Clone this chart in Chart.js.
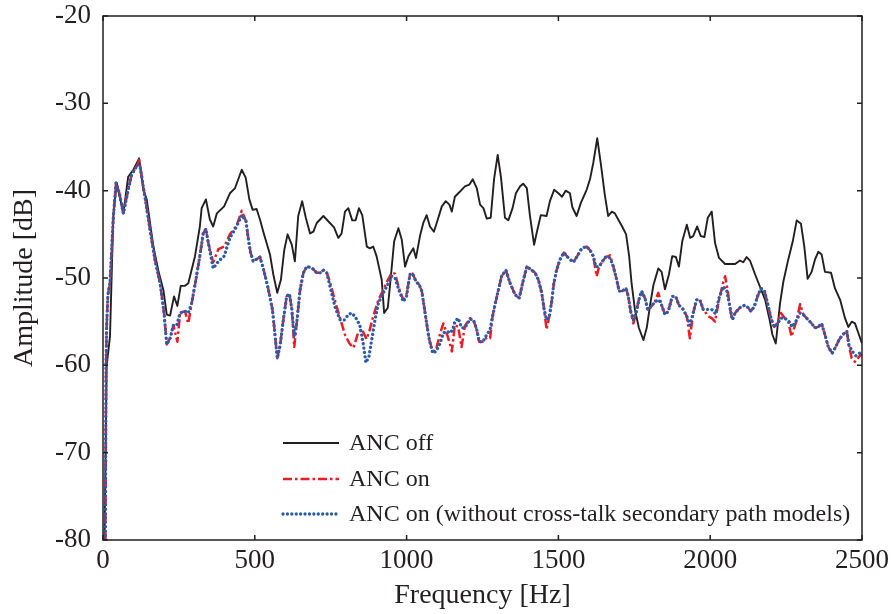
<!DOCTYPE html>
<html>
<head>
<meta charset="utf-8">
<script src="https://cdn.jsdelivr.net/npm/chart.js@4.4.0/dist/chart.umd.min.js"></script>
<style>
html, body { margin: 0; padding: 0; background: #fff; }
#wrap { width: 895px; height: 614px; position: relative; }
</style>
</head>
<body>
<div id="wrap"><canvas id="myChart"></canvas></div>
<script>
// Axis ticks
const xTicks = [0, 500, 1000, 1500, 2000, 2500];
const yTicks = [-80, -70, -60, -50, -40, -30, -20];

// ANC off
const freqOff = [5, 12, 23, 34, 45, 67, 83, 100, 119, 133, 144, 166, 182, 199, 210, 221, 234, 245, 256, 270, 281, 303, 319, 325, 339, 352, 363, 375, 399, 418, 435, 457, 470, 482, 493, 506, 517, 528, 550, 561, 574, 586, 597, 608, 622, 632, 643, 656, 668, 682, 693, 704, 726, 742, 761, 775, 786, 797, 808, 821, 832, 843, 854, 869, 879, 890, 901, 918, 926, 938, 945, 959, 973, 984, 995, 1006, 1022, 1031, 1044, 1055, 1066, 1077, 1090, 1101, 1116, 1129, 1141, 1149, 1159, 1176, 1192, 1207, 1218, 1231, 1242, 1253, 1264, 1277, 1288, 1300, 1311, 1324, 1335, 1349, 1360, 1374, 1384, 1396, 1406, 1420, 1428, 1442, 1461, 1472, 1486, 1500, 1512, 1524, 1538, 1546, 1560, 1574, 1593, 1604, 1615, 1628, 1640, 1653, 1664, 1676, 1686, 1697, 1710, 1723, 1733, 1741, 1752, 1765, 1780, 1791, 1802, 1813, 1829, 1840, 1851, 1864, 1875, 1887, 1897, 1908, 1923, 1934, 1944, 1957, 1969, 1981, 1992, 2005, 2016, 2029, 2049, 2082, 2098, 2109, 2120, 2131, 2148, 2164, 2181, 2197, 2205, 2216, 2230, 2241, 2257, 2272, 2285, 2299, 2310, 2321, 2334, 2345, 2356, 2367, 2378, 2398, 2411, 2428, 2444, 2455, 2466, 2477, 2488, 2500];
const ampOff = [-80, -60.1, -56.7, -42.9, -39.1, -42.6, -38.4, -37.6, -36.3, -39.9, -41.0, -46.4, -49.1, -51.4, -54.2, -54.3, -52.1, -53.2, -50.9, -50.9, -50.6, -47.5, -44.1, -42.0, -41.0, -43.3, -44.1, -42.6, -41.8, -40.3, -39.7, -37.6, -38.5, -41.0, -42.2, -42.1, -43.3, -44.7, -47.3, -49.6, -51.7, -50.2, -46.8, -45.0, -46.2, -48.1, -42.9, -41.2, -43.1, -44.9, -44.7, -43.7, -42.9, -43.5, -44.2, -45.4, -44.9, -42.4, -42.0, -43.4, -43.4, -42.0, -42.8, -46.4, -46.6, -46.4, -47.5, -50.2, -54.0, -53.4, -51.0, -45.8, -44.3, -45.6, -48.7, -47.5, -46.6, -47.7, -45.2, -43.7, -42.8, -44.1, -44.7, -43.5, -41.8, -41.2, -41.6, -42.4, -40.7, -40.1, -39.5, -39.3, -38.7, -39.7, -41.6, -42.0, -43.2, -43.1, -38.7, -35.9, -38.5, -43.1, -43.4, -42.0, -40.3, -39.5, -39.2, -39.7, -42.8, -46.2, -44.9, -42.8, -42.9, -41.2, -39.9, -40.3, -40.7, -40.0, -40.3, -41.9, -42.9, -41.4, -39.9, -38.7, -36.8, -34.0, -37.0, -40.5, -42.9, -42.4, -42.6, -43.3, -44.1, -45.0, -47.5, -50.6, -53.6, -55.7, -57.1, -55.7, -53.1, -50.8, -48.9, -49.3, -51.3, -49.6, -47.5, -47.6, -48.7, -45.8, -43.9, -45.4, -45.2, -44.1, -45.2, -45.3, -43.1, -42.4, -46.0, -47.7, -48.4, -48.4, -48.0, -48.2, -47.6, -48.0, -49.6, -51.0, -52.5, -55.0, -56.5, -57.5, -52.9, -50.4, -47.9, -45.8, -43.4, -43.8, -46.4, -50.1, -49.3, -47.9, -47.0, -47.3, -49.3, -49.4, -51.2, -52.5, -54.6, -55.6, -55.0, -55.2, -56.3, -57.5];

// ANC on
const freqOn = [8, 10, 12, 16, 23, 34, 43, 54, 67, 83, 94, 114, 119, 122, 138, 155, 171, 188, 201, 210, 221, 232, 245, 254, 270, 281, 292, 306, 319, 330, 339, 347, 363, 380, 399, 418, 440, 457, 471, 479, 486, 495, 512, 517, 528, 544, 558, 567, 574, 583, 594, 605, 614, 622, 630, 638, 649, 660, 671, 687, 704, 715, 726, 737, 748, 764, 781, 797, 812, 825, 840, 852, 868, 878, 890, 907, 920, 934, 951, 962, 975, 989, 1000, 1011, 1020, 1031, 1042, 1050, 1057, 1066, 1075, 1086, 1097, 1110, 1121, 1132, 1143, 1149, 1159, 1170, 1181, 1192, 1209, 1220, 1231, 1239, 1251, 1264, 1275, 1283, 1291, 1302, 1313, 1327, 1341, 1357, 1371, 1382, 1396, 1412, 1423, 1434, 1445, 1453, 1461, 1470, 1478, 1485, 1494, 1505, 1518, 1533, 1549, 1562, 1577, 1593, 1604, 1615, 1626, 1634, 1645, 1656, 1670, 1681, 1692, 1700, 1710, 1723, 1730, 1738, 1747, 1756, 1765, 1774, 1785, 1794, 1805, 1818, 1829, 1840, 1851, 1862, 1875, 1886, 1897, 1911, 1923, 1933, 1944, 1955, 1966, 1977, 1994, 2005, 2016, 2029, 2043, 2049, 2058, 2065, 2073, 2082, 2098, 2115, 2125, 2134, 2145, 2156, 2167, 2178, 2189, 2200, 2211, 2222, 2233, 2246, 2257, 2268, 2285, 2296, 2307, 2323, 2334, 2345, 2356, 2367, 2378, 2389, 2402, 2413, 2424, 2436, 2450, 2457, 2466, 2477, 2493, 2500];
const ampOn = [-80, -60, -55.5, -52, -50.5, -43, -39.1, -40.3, -42.6, -39.9, -38.2, -37.0, -36.5, -37.2, -40.7, -44.5, -47.9, -50.6, -54.0, -57.6, -56.9, -55.4, -57.3, -54.0, -53.8, -55.2, -52.9, -50.2, -47.5, -44.9, -44.4, -46.0, -48.2, -46.7, -46.4, -45.0, -44.0, -42.3, -43.5, -45.6, -47.1, -48.1, -47.7, -47.6, -48.9, -51.2, -53.6, -56.7, -59.2, -57.8, -54.8, -52.1, -51.8, -53.6, -57.9, -55.2, -51.4, -49.4, -48.7, -48.8, -49.4, -49.4, -49.1, -49.4, -50.5, -52.6, -54.6, -56.5, -57.5, -58.0, -56.3, -55.8, -57.0, -56.0, -54.4, -52.5, -51.6, -50.5, -49.4, -49.5, -51.2, -52.5, -51.8, -49.6, -49.5, -50.4, -50.8, -51.5, -53.1, -55.2, -57.1, -58.4, -58.2, -56.4, -55.2, -56.3, -57.6, -58.4, -55.4, -55.6, -57.9, -55.5, -54.6, -54.8, -55.9, -57.3, -57.3, -56.8, -56.9, -54.4, -53.1, -51.4, -49.8, -49.1, -50.6, -51.9, -52.3, -50.6, -48.7, -49.1, -49.4, -50.2, -51.7, -53.6, -55.9, -54.4, -52.7, -50.6, -49.1, -47.9, -47.1, -47.7, -48.2, -47.5, -46.6, -46.4, -46.8, -47.5, -49.8, -48.7, -48.1, -47.6, -47.4, -48.7, -50.2, -51.5, -51.5, -51.2, -52.1, -53.8, -55.2, -54.0, -52.5, -51.5, -52.3, -53.6, -53.3, -52.7, -51.7, -53.1, -54.2, -53.8, -52.1, -52.1, -53.1, -53.6, -54.4, -56.9, -54.0, -52.5, -52.5, -53.6, -54.4, -54.6, -55.0, -52.5, -50.5, -49.8, -51.5, -53.5, -54.8, -54.0, -53.4, -53.1, -53.4, -53.8, -53.3, -52.1, -51.2, -51.4, -52.9, -54.6, -55.6, -55.2, -54.0, -54.6, -55.0, -56.7, -54.8, -53.0, -54.2, -54.8, -55.2, -55.7, -55.6, -55.2, -56.5, -57.9, -58.6, -57.9, -57.1, -56.5, -56.1, -57.7, -59.2, -59.6, -58.9, -58.8];

// ANC on (without cross-talk secondary path models)
const freqNoCt = [8, 10, 12, 16, 23, 34, 43, 54, 67, 83, 94, 114, 122, 138, 155, 171, 188, 201, 210, 221, 232, 243, 254, 270, 281, 292, 306, 319, 330, 339, 347, 363, 380, 399, 418, 440, 457, 471, 479, 486, 495, 512, 517, 528, 544, 558, 567, 574, 583, 594, 605, 614, 622, 630, 638, 649, 660, 671, 687, 704, 715, 726, 737, 748, 764, 781, 795, 808, 819, 830, 846, 857, 866, 876, 885, 896, 907, 920, 934, 951, 962, 975, 989, 1000, 1011, 1020, 1031, 1042, 1050, 1057, 1066, 1075, 1086, 1097, 1110, 1121, 1132, 1143, 1152, 1159, 1170, 1181, 1192, 1209, 1220, 1231, 1239, 1251, 1264, 1275, 1283, 1291, 1302, 1313, 1327, 1341, 1357, 1371, 1382, 1396, 1412, 1423, 1434, 1445, 1453, 1461, 1470, 1478, 1485, 1494, 1505, 1518, 1533, 1549, 1562, 1577, 1593, 1604, 1615, 1623, 1634, 1645, 1656, 1670, 1681, 1692, 1700, 1710, 1723, 1730, 1738, 1747, 1756, 1765, 1774, 1785, 1794, 1805, 1818, 1831, 1840, 1851, 1862, 1875, 1886, 1897, 1911, 1923, 1933, 1944, 1955, 1966, 1977, 1988, 2005, 2018, 2029, 2043, 2054, 2065, 2073, 2082, 2098, 2115, 2125, 2134, 2145, 2156, 2167, 2178, 2189, 2200, 2211, 2222, 2233, 2246, 2260, 2270, 2285, 2296, 2307, 2323, 2334, 2345, 2356, 2367, 2378, 2389, 2402, 2413, 2424, 2436, 2450, 2457, 2468, 2480, 2493, 2500];
const ampNoCt = [-80, -60, -55.5, -52, -50.5, -43, -39.1, -40.3, -42.6, -39.9, -38.2, -37.0, -37.2, -40.7, -44.5, -47.9, -50.6, -54.0, -57.6, -56.9, -55.4, -55.4, -54.0, -53.8, -54.0, -52.9, -50.2, -47.5, -44.9, -44.4, -46.0, -48.9, -48.1, -47.5, -45.4, -44.1, -42.8, -43.5, -45.6, -47.1, -48.1, -47.7, -47.6, -48.9, -51.2, -53.6, -56.7, -59.2, -57.8, -54.8, -52.1, -51.8, -53.6, -56.7, -55.2, -51.4, -49.4, -48.7, -48.8, -49.4, -49.4, -49.1, -49.4, -51.0, -53.3, -54.8, -54.8, -54.2, -54.0, -54.4, -55.4, -57.5, -59.7, -59.0, -57.1, -54.8, -52.9, -51.9, -51.0, -49.8, -50.0, -51.4, -52.7, -52.1, -49.6, -49.5, -50.4, -50.8, -51.5, -53.1, -55.2, -57.1, -58.6, -58.4, -57.5, -56.3, -56.1, -56.3, -55.9, -55.0, -54.6, -55.7, -55.7, -54.7, -54.8, -55.9, -57.3, -57.3, -56.5, -55.9, -54.4, -53.1, -51.4, -49.8, -49.1, -50.6, -51.9, -52.3, -50.6, -48.7, -49.1, -49.4, -50.2, -51.7, -53.6, -54.8, -54.4, -52.7, -50.6, -49.1, -47.9, -47.1, -47.7, -48.2, -47.5, -46.6, -46.4, -46.8, -47.5, -48.7, -48.7, -48.1, -47.6, -47.7, -48.7, -50.2, -51.5, -51.5, -51.2, -52.1, -53.8, -54.8, -54.0, -52.5, -51.5, -52.3, -53.6, -53.3, -52.7, -52.5, -53.1, -54.2, -53.8, -52.1, -52.1, -53.1, -53.6, -54.4, -55.4, -54.0, -52.5, -52.5, -53.6, -53.6, -53.6, -54.1, -52.3, -51.0, -51.4, -53.3, -54.8, -54.0, -53.4, -53.1, -53.4, -53.8, -53.3, -52.1, -51.2, -51.4, -52.9, -54.6, -55.6, -55.2, -54.6, -54.6, -55.0, -55.6, -54.8, -54.0, -54.2, -54.8, -55.2, -55.7, -55.6, -55.2, -56.5, -57.9, -58.6, -57.9, -57.1, -56.5, -56.1, -57.7, -58.4, -58.9, -58.6, -58.4];

const seriesNames = ['ANC off', 'ANC on', 'ANC on (without cross-talk secondary path models)'];

const INK = '#231f20';
const RED = '#ed1c24';
const BLUE = '#2b5bab';
const FONT = "'Liberation Serif', 'Times New Roman', serif";

function toPoints(xs, ys) {
    return xs.map((x, i) => ({ x: x, y: ys[i] }));
}

const styles = [
    { color: INK, width: 1.9, dash: [], cap: 'butt' },
    { color: RED, width: 2.5, dash: [9, 3, 2.5, 3], cap: 'butt' },
    { color: BLUE, width: 3.3, dash: [0.01, 4.4], cap: 'round' }
];

// frame with inward ticks on all four sides
const framePlugin = {
    id: 'frame',
    afterDatasetsDraw(chart) {
        const { ctx, chartArea: a, scales } = chart;
        const len = 5;
        ctx.save();
        ctx.strokeStyle = INK;
        ctx.lineWidth = 1.5;
        ctx.strokeRect(a.left, a.top, a.right - a.left, a.bottom - a.top);
        ctx.beginPath();
        xTicks.forEach(v => {
            const px = scales.x.getPixelForValue(v);
            ctx.moveTo(px, a.bottom); ctx.lineTo(px, a.bottom - len);
            ctx.moveTo(px, a.top); ctx.lineTo(px, a.top + len);
        });
        yTicks.forEach(v => {
            const py = scales.y.getPixelForValue(v);
            ctx.moveTo(a.left, py); ctx.lineTo(a.left + len, py);
            ctx.moveTo(a.right, py); ctx.lineTo(a.right - len, py);
        });
        ctx.stroke();
        ctx.restore();
    }
};

// legend in the lower middle of the plot
const legendPlugin = {
    id: 'customLegend',
    afterDraw(chart) {
        const ctx = chart.ctx;
        const rows = [443, 479, 514];
        ctx.save();
        seriesNames.forEach((name, i) => {
            const s = styles[i];
            ctx.beginPath();
            ctx.strokeStyle = s.color;
            ctx.lineWidth = s.width;
            ctx.lineCap = s.cap;
            ctx.setLineDash(s.dash);
            ctx.moveTo(283, rows[i]);
            ctx.lineTo(339, rows[i]);
            ctx.stroke();
            ctx.setLineDash([]);
            ctx.fillStyle = INK;
            ctx.font = '24px ' + FONT;
            ctx.textBaseline = 'middle';
            ctx.textAlign = 'left';
            ctx.fillText(name, 349, rows[i] + 1);
        });
        ctx.restore();
    }
};

const ctx = document.getElementById('myChart');
new Chart(ctx, {
    type: 'line',
    data: {
        datasets: [
            { label: seriesNames[0], data: toPoints(freqOff, ampOff), order: 2 },
            { label: seriesNames[1], data: toPoints(freqOn, ampOn), order: 1 },
            { label: seriesNames[2], data: toPoints(freqNoCt, ampNoCt), order: 0 }
        ].map((d, i) => Object.assign(d, {
            borderColor: styles[i].color,
            borderWidth: styles[i].width,
            borderDash: styles[i].dash,
            borderCapStyle: styles[i].cap,
            borderJoinStyle: 'round',
            pointRadius: 0,
            tension: 0,
            fill: false
        }))
    },
    options: {
        responsive: true,
        maintainAspectRatio: false,
        animation: false,
        layout: { padding: { top: 16, right: 33, left: 0, bottom: 0 } },
        plugins: {
            legend: { display: false },
            tooltip: { enabled: false }
        },
        scales: {
            x: {
                type: 'linear',
                min: 0,
                max: 2500,
                afterBuildTicks: scale => { scale.ticks = xTicks.map(v => ({ value: v })); },
                afterFit: scale => {
                    scale.height = 74;
                    scale.paddingLeft = 0;
                    scale.paddingRight = 0;
                },
                grid: { display: false, drawTicks: false },
                border: { display: false },
                ticks: {
                    color: INK, padding: 5, maxRotation: 0,
                    font: { family: FONT, size: 27 },
                    callback: v => String(v)
                },
                title: {
                    display: true,
                    text: 'Frequency [Hz]',
                    color: INK,
                    font: { family: FONT, size: 28 },
                    padding: { top: 0, bottom: 2 }
                }
            },
            y: {
                type: 'linear',
                min: -80,
                max: -20,
                afterBuildTicks: scale => { scale.ticks = yTicks.map(v => ({ value: v })); },
                afterFit: scale => {
                    scale.width = 103;
                    scale.paddingTop = 0;
                    scale.paddingBottom = 0;
                },
                grid: { display: false, drawTicks: false },
                border: { display: false },
                ticks: {
                    color: INK, padding: 12,
                    font: { family: FONT, size: 27 },
                    callback: v => String(v)
                },
                title: {
                    display: true,
                    text: 'Amplitude [dB]',
                    color: INK,
                    font: { family: FONT, size: 28 },
                    padding: { top: 8, bottom: 0 }
                }
            }
        }
    },
    plugins: [framePlugin, legendPlugin]
});
</script>
</body>
</html>
